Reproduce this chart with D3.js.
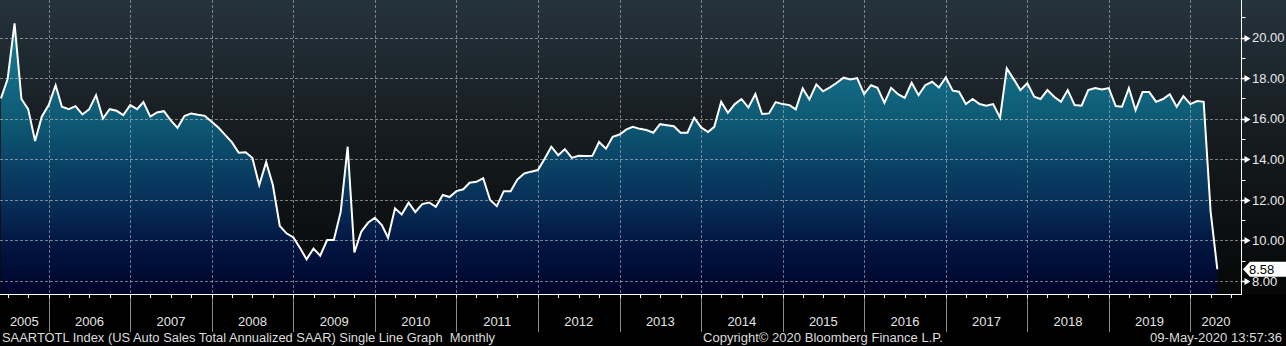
<!DOCTYPE html>
<html>
<head>
<meta charset="utf-8">
<script src="https://cdn.jsdelivr.net/npm/d3@7"></script>
<style>
  html, body { margin: 0; padding: 0; background: #000; }
  svg { display: block; font-family: "Liberation Sans", Arial, sans-serif; }
</style>
</head>
<body>
<div id="chart"></div>
<script>
// monthly SAAR values (millions)
var v2005 = [17.0, 17.95, 20.7, 16.97, 16.47, 14.9, 16.1, 16.67]; // May-Dec
var v2006 = [17.65, 16.59, 16.47, 16.62, 16.21, 16.46, 17.16, 16.01, 16.47, 16.39, 16.18, 16.67];
var v2007 = [16.47, 16.82, 16.1, 16.31, 16.37, 15.93, 15.55, 16.13, 16.26, 16.19, 16.14, 15.85];
var v2008 = [15.55, 15.2, 14.83, 14.32, 14.35, 14.07, 12.73, 13.86, 12.73, 10.71, 10.35, 10.15];
var v2009 = [9.6, 9.07, 9.6, 9.25, 10.02, 10.02, 11.42, 14.62, 9.41, 10.43, 10.87, 11.12];
var v2010 = [10.76, 10.13, 11.58, 11.28, 11.86, 11.4, 11.79, 11.87, 11.66, 12.24, 12.14, 12.43];
var v2011 = [12.52, 12.84, 12.89, 13.07, 11.99, 11.69, 12.43, 12.43, 13.0, 13.3, 13.39, 13.47];
var v2012 = [14.04, 14.62, 14.2, 14.5, 14.07, 14.17, 14.16, 14.17, 14.85, 14.52, 15.11, 15.22];
var v2013 = [15.47, 15.6, 15.5, 15.44, 15.31, 15.73, 15.68, 15.63, 15.31, 15.31, 16.05, 15.57];
var v2014 = [15.34, 15.6, 16.83, 16.29, 16.72, 16.97, 16.55, 17.21, 16.23, 16.26, 16.82, 16.72];
var v2015 = [16.67, 16.46, 17.49, 16.95, 17.69, 17.35, 17.54, 17.77, 18.02, 17.93, 18.0, 17.21];
var v2016 = [17.65, 17.52, 16.78, 17.52, 17.21, 17.03, 17.77, 17.16, 17.65, 17.82, 17.54, 18.03];
var v2017 = [17.38, 17.33, 16.72, 16.97, 16.72, 16.64, 16.72, 16.05, 18.48, 17.95, 17.41, 17.75];
var v2018 = [17.08, 16.97, 17.41, 17.08, 16.83, 17.41, 16.67, 16.64, 17.41, 17.51, 17.44, 17.51];
var v2019 = [16.62, 16.59, 17.51, 16.42, 17.31, 17.31, 16.83, 16.97, 17.21, 16.59, 17.11, 16.72];
var v2020 = [16.87, 16.83, 11.42, 8.58]; // Jan-Apr

var yearLabels = ["2005","2006","2007","2008","2009","2010","2011","2012","2013","2014","2015","2016","2017","2018","2019","2020"];
var majorTicks = [8, 10, 12, 14, 16, 18, 20];
var minorTicks = [9, 11, 13, 15, 17, 19, 21];
var lastLabel = "8.58";

var width = 1286, height = 346;
var plotRight = 1241.5, plotBottom = 294;

// build the series: each month is plotted at its end
var byYear = [v2005, v2006, v2007, v2008, v2009, v2010, v2011, v2012, v2013, v2014, v2015, v2016, v2017, v2018, v2019, v2020];
var data = [];
byYear.forEach(function(vals, i){
    var yr = 2005 + i;
    var first = (yr == 2005) ? 4 : 0;
    vals.forEach(function(v, j){
        data.push({date: new Date(yr, first + j + 1, 1), value: v});
    });
});

var x = d3.scaleTime()
    .domain([new Date(2006, 0, 1), new Date(2020, 0, 1)])
    .range([48.7, 1190.3]);

var y = d3.scaleLinear()
    .domain([7.36, 21.85])
    .range([plotBottom, 0]);

var svg = d3.select("#chart").append("svg")
    .attr("width", width)
    .attr("height", height);

var defs = svg.append("defs");

var bg = defs.append("linearGradient").attr("id", "bg")
    .attr("x1", 0).attr("y1", 0).attr("x2", 0).attr("y2", 1);
bg.append("stop").attr("offset", 0).attr("stop-color", "#25333d");
bg.append("stop").attr("offset", 0.45).attr("stop-color", "#161c20");
bg.append("stop").attr("offset", 1).attr("stop-color", "#060707");

var fillGrad = defs.append("linearGradient").attr("id", "fillGrad")
    .attr("gradientUnits", "userSpaceOnUse")
    .attr("x1", 0).attr("y1", 0).attr("x2", 0).attr("y2", plotBottom);
fillGrad.append("stop").attr("offset", 0).attr("stop-color", "#1b8299");
fillGrad.append("stop").attr("offset", 0.27).attr("stop-color", "#136a83");
fillGrad.append("stop").attr("offset", 0.42).attr("stop-color", "#0e5873");
fillGrad.append("stop").attr("offset", 0.56).attr("stop-color", "#0a4265");
fillGrad.append("stop").attr("offset", 0.7).attr("stop-color", "#072d56");
fillGrad.append("stop").attr("offset", 0.83).attr("stop-color", "#021642");
fillGrad.append("stop").attr("offset", 1).attr("stop-color", "#00042a");

defs.append("clipPath").attr("id", "plotClip")
  .append("rect").attr("x", 0).attr("y", 0).attr("width", plotRight).attr("height", plotBottom);

svg.append("rect").attr("width", width).attr("height", height).attr("fill", "#000");
svg.append("rect").attr("width", width).attr("height", plotBottom).attr("fill", "url(#bg)");

var plot = svg.append("g").attr("clip-path", "url(#plotClip)");

var area = d3.area()
    .x(function(d){ return x(d.date); })
    .y0(plotBottom)
    .y1(function(d){ return y(d.value); });

var line = d3.line()
    .x(function(d){ return x(d.date); })
    .y(function(d){ return y(d.value); });

plot.append("path")
    .datum(data)
    .attr("d", area)
    .attr("fill", "url(#fillGrad)");

// grid
var yearStarts = d3.range(2006, 2021).map(function(yr){ return new Date(yr, 0, 1); });

plot.selectAll(".hgrid")
    .data(majorTicks)
    .enter().append("line")
    .attr("x1", 0).attr("x2", plotRight)
    .attr("y1", function(d){ return Math.round(y(d)) + 0.5; })
    .attr("y2", function(d){ return Math.round(y(d)) + 0.5; })
    .attr("stroke", "#c4c4c4")
    .attr("stroke-opacity", 0.6)
    .attr("stroke-dasharray", "3,2");

plot.selectAll(".vgrid")
    .data(yearStarts)
    .enter().append("line")
    .attr("x1", function(d){ return Math.round(x(d)) + 0.5; })
    .attr("x2", function(d){ return Math.round(x(d)) + 0.5; })
    .attr("y1", 0).attr("y2", plotBottom)
    .attr("stroke", "#c4c4c4")
    .attr("stroke-opacity", 0.55)
    .attr("stroke-dasharray", "3,2");

plot.append("path")
    .datum(data)
    .attr("d", line)
    .attr("fill", "none")
    .attr("stroke", "#ffffff")
    .attr("stroke-width", 2);

// bottom axis
svg.append("line")
    .attr("x1", 0).attr("x2", plotRight)
    .attr("y1", plotBottom + 0.5).attr("y2", plotBottom + 0.5)
    .attr("stroke", "#ffffff");

var quarters = d3.timeMonth.every(3).range(new Date(2005, 3, 1), new Date(2020, 8, 1))
    .filter(function(d){ return x(d) >= 0 && x(d) <= plotRight; });

svg.selectAll(".qtick")
    .data(quarters)
    .enter().append("line")
    .attr("x1", function(d){ return Math.round(x(d)) + 0.5; })
    .attr("x2", function(d){ return Math.round(x(d)) + 0.5; })
    .attr("y1", plotBottom).attr("y2", plotBottom + 4)
    .attr("stroke", "#ffffff");

svg.selectAll(".sep")
    .data(yearStarts)
    .enter().append("line")
    .attr("x1", function(d){ return Math.round(x(d)) + 0.5; })
    .attr("x2", function(d){ return Math.round(x(d)) + 0.5; })
    .attr("y1", plotBottom + 4).attr("y2", 332)
    .attr("stroke", "#8a8a8a");

svg.selectAll(".year")
    .data(yearLabels)
    .enter().append("text")
    .attr("x", function(d){
        var yr = +d;
        var a = Math.max(0, x(new Date(yr, 0, 1)));
        var b = Math.min(plotRight, x(new Date(yr + 1, 0, 1)));
        return (a + b) / 2;
    })
    .attr("y", 321)
    .attr("dy", "0.35em")
    .attr("text-anchor", "middle")
    .attr("fill", "#e4e4e4")
    .style("font-size", "13px")
    .text(function(d){ return d; });

// right axis
svg.append("line")
    .attr("x1", plotRight).attr("x2", plotRight)
    .attr("y1", 0).attr("y2", plotBottom + 1)
    .attr("stroke", "#ffffff");

svg.selectAll(".minor")
    .data(minorTicks)
    .enter().append("line")
    .attr("x1", plotRight).attr("x2", plotRight + 4)
    .attr("y1", function(d){ return Math.round(y(d)) + 0.5; })
    .attr("y2", function(d){ return Math.round(y(d)) + 0.5; })
    .attr("stroke", "#ffffff");

svg.selectAll(".major")
    .data(majorTicks)
    .enter().append("path")
    .attr("d", function(d){
        var yy = Math.round(y(d)) + 0.5;
        return "M" + plotRight + "," + (yy - 0.7) + "H" + (plotRight + 3) + "V" + (yy - 3.5) +
               "L" + (plotRight + 9) + "," + yy + "L" + (plotRight + 3) + "," + (yy + 3.5) +
               "V" + (yy + 0.7) + "H" + plotRight + "Z";
    })
    .attr("fill", "#ffffff");

svg.selectAll(".ylab")
    .data(majorTicks)
    .enter().append("text")
    .attr("x", 1252)
    .attr("y", function(d){ return y(d); })
    .attr("dy", "0.36em")
    .attr("fill", "#e8e8e8")
    .style("font-size", "13px")
    .text(function(d){ return d3.format(".2f")(d); });

// last value tag
var last = data[data.length - 1];
var ly = y(last.value);
svg.append("path")
    .attr("d", "M1243," + ly + "L1250," + (ly - 7.5) + "H1286V" + (ly + 7.5) + "H1250Z")
    .attr("fill", "#ffffff");
svg.append("text")
    .attr("x", 1249)
    .attr("y", ly)
    .attr("dy", "0.36em")
    .attr("fill", "#000000")
    .style("font-size", "13px")
    .text(lastLabel);

// footer
svg.append("text")
    .attr("x", 2).attr("y", 338).attr("dy", "0.35em")
    .attr("fill", "#dcdcdc")
    .style("font-size", "12px")
    .style("white-space", "pre")
    .attr("textLength", 493)
    .attr("lengthAdjust", "spacingAndGlyphs")
    .text("SAARTOTL Index (US Auto Sales Total Annualized SAAR) Single Line Graph  Monthly");

svg.append("text")
    .attr("x", 703).attr("y", 338).attr("dy", "0.35em")
    .attr("fill", "#dcdcdc")
    .style("font-size", "12px")
    .attr("textLength", 240)
    .attr("lengthAdjust", "spacingAndGlyphs")
    .text("Copyright\u00a9 2020 Bloomberg Finance L.P.");

svg.append("text")
    .attr("x", 1150).attr("y", 338).attr("dy", "0.35em")
    .attr("fill", "#dcdcdc")
    .style("font-size", "12px")
    .attr("textLength", 132)
    .attr("lengthAdjust", "spacingAndGlyphs")
    .text("09-May-2020 13:57:36");
</script>
</body>
</html>
